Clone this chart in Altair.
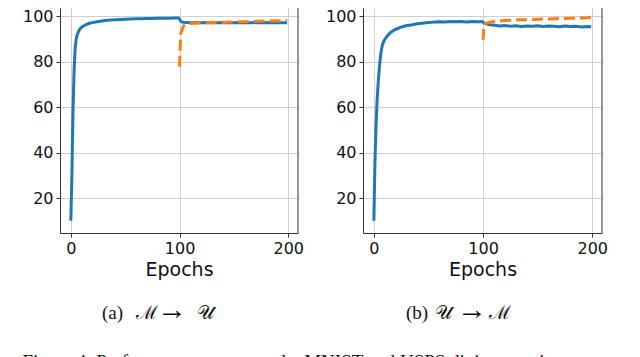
import altair as alt
import pandas as pd

# ---- data ----
a_blue_epochs = [0,1,2,3,4,5,6,7,8,9,10,12,14,16,18,20,23,26,30,34,38,42,46,50,55,60,65,70,75,80,85,90,95,99,
                 100,101,102,104,107,110,115,120,125,130,135,140,145,150,155,160,165,170,175,180,185,190,195,199]
a_blue_values = [10,30,58,76,86,90,92,93,94,94.6,95.1,95.7,96.2,96.6,96.9,97.1,97.4,97.6,97.9,98.1,98.3,98.4,98.5,98.6,
                 98.7,98.8,98.8,98.9,98.9,99.0,99.0,99.0,99.1,99.1,
                 98.6,97.9,97.4,97.2,97.1,97.0,97.1,97.0,97.1,97.0,97.0,97.1,97.0,97.0,97.1,97.0,97.0,97.1,97.0,97.0,97.1,97.0,97.0,97.0]
a_orange_epochs = [100,101,102,103,104,106,108,110,115,120,130,140,150,160,170,180,190,199]
a_orange_values = [77.7,92.0,93.5,94.8,95.8,96.4,96.6,96.7,96.9,97.0,97.2,97.3,97.4,97.5,97.7,97.8,97.9,98.0]

b_blue_epochs = [0,1,2,3,4,5,6,7,8,9,10,12,14,16,18,20,22,24,27,30,33,36,40,44,48,52,56,60,65,70,75,80,85,90,95,99,
                 100,101,103,105,108,111,115,120,125,130,135,140,145,150,155,160,165,170,175,180,185,190,195,199]
b_blue_values = [10,36,52,63,71,77,82,85.5,87.5,88.8,89.7,91.0,92.2,93.0,93.6,94.2,94.5,95.0,95.4,95.8,95.9,96.3,96.6,96.8,
                 97.0,97.2,97.4,97.5,97.4,97.6,97.5,97.6,97.4,97.6,97.5,97.6,
                 97.2,96.9,96.6,96.3,96.0,95.9,95.6,95.8,95.5,95.7,95.4,95.6,95.5,95.7,95.4,95.6,95.5,95.3,95.6,95.4,95.5,95.2,95.4,95.3]
b_orange_epochs = [100,101,102,104,106,110,115,120,130,140,150,160,170,180,190,199]
b_orange_values = [89.5,96.3,96.7,97.0,97.3,97.6,97.8,98.0,98.3,98.4,98.6,98.7,98.9,99.0,99.1,99.4]

x_ticks = [0, 100, 200]
y_ticks = [20, 40, 60, 80, 100]
caption_a = ["(a)", "ℳ", "→", "𝒰"]
caption_b = ["(b)", "𝒰", "→", "ℳ"]
fig_caption = "Figure 4:  Performance curves on the MNIST and USPS digits experiment"

BLUE = "#1f77b4"
ORANGE = "#ff7f0e"
H = 225
XDOM = [-9.95, 208.95]
YDOM = [4.615, 103.52]


def caption_marks(parts, xs):
    marks = []
    sizes = [19, 19, 30, 19]
    ys = [305, 305, 302, 305]
    for t, x, s, y in zip(parts, xs, sizes, ys):
        marks.append(
            alt.Chart(pd.DataFrame({"t": [t]})).mark_text(
                font="Liberation Serif", fontSize=s, align="left", baseline="middle", color="#111"
            ).encode(text="t:N", x=alt.value(x), y=alt.value(y))
        )
    return marks


def panel(be, bv, oe, ov, parts, cap_x, width):
    xs = alt.Scale(domain=XDOM, nice=False, zero=False)
    ys = alt.Scale(domain=YDOM, nice=False, zero=False)
    xax = alt.Axis(values=x_ticks, title="Epochs", grid=True, gridColor="#cfcfcf", gridWidth=1,
                   domainColor="#333", tickColor="#333", tickSize=4, labelFont="DejaVu Sans",
                   labelFontSize=16, labelColor="#111", labelPadding=3, titleFont="DejaVu Sans",
                   titleFontSize=19, titleFontWeight="normal", titleColor="#111", titlePadding=4)
    yax = alt.Axis(values=y_ticks, title=None, grid=True, gridColor="#cfcfcf", gridWidth=1,
                   domainColor="#333", tickColor="#333", tickSize=4, labelFont="DejaVu Sans",
                   labelFontSize=16, labelColor="#111", labelPadding=3)
    dfb = pd.DataFrame({"epoch": be, "acc": bv})
    dfo = pd.DataFrame({"epoch": oe, "acc": ov})
    blue = alt.Chart(dfb).mark_line(color=BLUE, strokeWidth=3).encode(
        x=alt.X("epoch:Q", scale=xs, axis=xax),
        y=alt.Y("acc:Q", scale=ys, axis=yax),
    )
    orange = alt.Chart(dfo).mark_line(color=ORANGE, strokeWidth=3, strokeDash=[11, 5]).encode(
        x=alt.X("epoch:Q", scale=xs),
        y=alt.Y("acc:Q", scale=ys),
    )
    spine = alt.Chart(pd.DataFrame({"k": [0]})).mark_rule(color="#333", strokeWidth=1).encode(
        x=alt.value(width), y=alt.value(0), y2=alt.value(H)
    )
    return alt.layer(blue, orange, spine, *caption_marks(parts, cap_x)).properties(width=width, height=H)


left = panel(a_blue_epochs, a_blue_values, a_orange_epochs, a_orange_values, caption_a, [42, 76, 97, 137], 238)
right = panel(b_blue_epochs, b_blue_values, b_orange_epochs, b_orange_values, caption_b, [43, 72, 94, 126], 239)

chart = alt.hconcat(left, right, spacing=21).properties(
    padding={"left": 14, "top": -1, "right": 0, "bottom": 0},
    title=alt.TitleParams(fig_caption, orient="bottom", anchor="start", font="Liberation Serif",
                          fontSize=19, fontWeight="normal", color="#111", offset=28),
).configure_view(strokeWidth=0)

chart.save("out.html", embed_options={"renderer": "svg", "actions": False})
